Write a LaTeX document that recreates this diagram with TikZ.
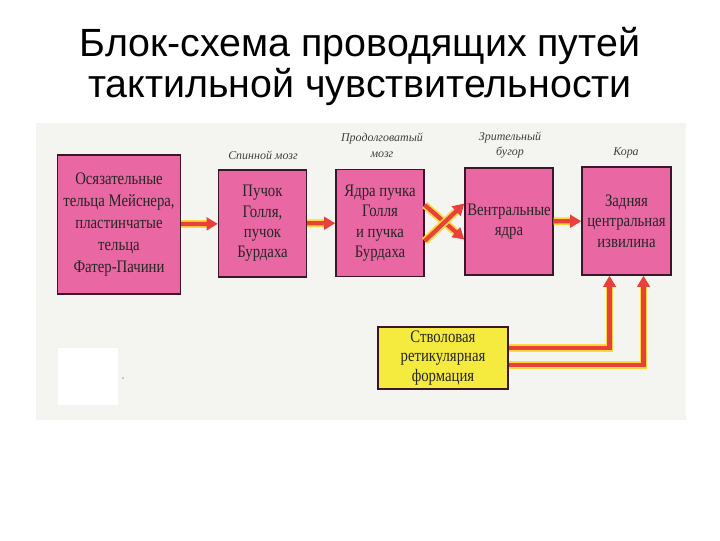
\documentclass[tikz,border=0pt]{standalone}
\usepackage{fontspec}
\setmainfont{Liberation Serif}
\newfontfamily\titlefont{Liberation Sans}
\newfontfamily\boxfont[FakeStretch=0.84]{Liberation Serif}
\usepackage{tikz}
\usetikzlibrary{arrows.meta,calc}

\definecolor{boxpink}{RGB}{233,104,163}
\definecolor{boxline}{RGB}{58,22,40}
\definecolor{retyellow}{RGB}{245,234,62}
\definecolor{tractred}{RGB}{232,64,58}
\definecolor{tractglow}{RGB}{255,214,60}
\definecolor{panel}{RGB}{244,244,240}

\begin{document}
\begin{tikzpicture}[x=0.025cm,y=-0.025cm,
    station/.style={draw=boxline,line width=1pt,fill=boxpink,align=center,
      inner sep=0pt,minimum width=2.2cm,minimum height=2.68cm,
      font=\boxfont\fontsize{12.5}{14.5}\selectfont,text=black!85},
    level/.style={align=center,font=\fontsize{8.5}{11.3}\selectfont\itshape,text=black!75},
    tract/.style={draw=tractred,line width=3pt,-{Triangle[length=8pt,width=9pt]},
      preaction={draw=tractglow,line width=5.5pt,-,shorten >=6pt}},
    heading/.style={anchor=base,font=\titlefont\fontsize{28}{30}\selectfont}]
     \useasboundingbox (0,0) rectangle (720,540);
     \fill[panel] (36,123) rectangle (686,420);
     \fill[white] (58,348) rectangle (118,405);
     \fill[black!40] (123,378) circle (0.8);
     \node[heading] at (360,56) (title1) {Блок-схема проводящих путей};
     \node[heading] at (360,97) (title2) {тактильной чувствительности};
     % levels of the pathway
     \node[level] at (263,155) (spine) {Спинной мозг};
     \node[level] at (382,145) (medulla) {Продолговатый\\мозг};
     \node[level] at (510,145) (thal) {Зрительный\\бугор};
     \node[level] at (626,153) (cortex) {Кора};
     % boxes
     \node[station,minimum width=3.075cm,minimum height=3.475cm,
       font=\boxfont\fontsize{12.5}{15.5}\selectfont] at (119,224.5) (b1)
       {Осязательные\\тельца Мейснера,\\пластинчатые\\тельца\\Фатер-Пачини};
     \node[station] at (262.5,223.5) (b2) {Пучок\\Голля,\\пучок\\Бурдаха};
     \node[station] at (380,223) (b3) {Ядра пучка\\Голля\\и пучка\\Бурдаха};
     \node[station] at (509,221.5) (b4) {Вентральные\\ядра};
     \node[station,minimum width=2.225cm,minimum height=2.7cm] at (626.5,221) (b5)
       {Задняя\\центральная\\извилина};
     \node[station,fill=retyellow,minimum width=3.25cm,minimum height=1.55cm,
       font=\boxfont\fontsize{12.5}{14}\selectfont] at (443,358) (ret)
       {Стволовая\\ретикулярная\\формация};
     \path (b1) edge[tract] (b2)
              (b2) edge[tract] (b3)
              (b3.east)+(0,-18) edge[tract] ($(b4.west)+(0,18)$)
              (b3.east)+(0,18) edge[tract] ($(b4.west)+(0,-18)$)
              (b4) edge[tract] (b5);
     \draw[tract] ($(ret.east)+(0,-10)$) -| ($(b5.south)+(-17,0)$);
     \draw[tract] ($(ret.east)+(0,7)$) -| ($(b5.south)+(17,0)$);
\end{tikzpicture}
\end{document}
